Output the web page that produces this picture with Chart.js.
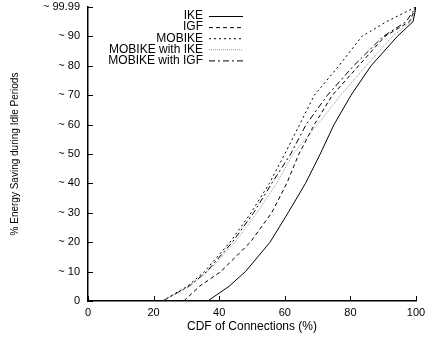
<!DOCTYPE html>
<html>
<head>
<meta charset="utf-8">
<script src="https://cdn.jsdelivr.net/npm/chart.js@4.4.0/dist/chart.umd.min.js"></script>
<style>
html, body { margin: 0; padding: 0; background: #fff; }
#wrap { width: 426px; height: 339px; }
</style>
</head>
<body>
<div id="wrap"><canvas id="mycanvas"></canvas></div>
<script>
// energy saving levels (y) and the CDF value (x) where each scheme reaches them
var savingLevels = [0, 5, 10, 20, 30, 40, 50, 60, 70, 80, 90, 95, 99.99];
var ikeCdf       = [36.5, 43, 48, 55.5, 61, 66.3, 70.8, 75, 80.2, 86.3, 94.3, 99.1, 100];
var igfCdf       = [29.2, 34, 40.5, 49.5, 56, 60.6, 64.3, 69, 74.5, 82.5, 90.5, 98, 100];
var mobikeCdf    = [22.7, 30.3, 35.5, 43.3, 49.7, 55.3, 60, 64.5, 69, 76.5, 83.5, 91, 100];
var mobIkeCdf    = [22.7, 31, 36.5, 44.8, 51.5, 57.5, 62.5, 70, 77, 84.8, 92.8, 98.5, 100];
var mobIgfCdf    = [22.7, 30.8, 36.2, 44, 50.5, 56, 61.8, 66.5, 73, 81, 90, 97, 100];

var labels = ['IKE', 'IGF', 'MOBIKE', 'MOBIKE with IKE', 'MOBIKE with IGF'];
var xTicks = [0, 20, 40, 60, 80, 100];
var yTicks = [0, 10, 20, 30, 40, 50, 60, 70, 80, 90, 99.99];

function toPoints(cdf) {
    var pts = [];
    for (var i in cdf) {
        pts.push({x: cdf[i], y: savingLevels[i]});
    }
    return pts;
}

var styles = [
    {color: '#000', dash: []},
    {color: '#000', dash: [4, 3]},
    {color: '#000', dash: [2, 3]},
    {color: '#999', dash: [1, 1]},
    {color: '#000', dash: [6, 3, 2, 3]}
];
var series = [ikeCdf, igfCdf, mobikeCdf, mobIkeCdf, mobIgfCdf];

var datasets = [];
for (var i = 0; i < series.length; i++) {
    datasets.push({
        label: labels[i],
        data: toPoints(series[i]),
        showLine: true,
        borderColor: styles[i].color,
        borderDash: styles[i].dash,
        borderWidth: 1,
        pointRadius: 0,
        tension: 0,
        fill: false
    });
}

var font = 'Liberation Sans, Arial, Helvetica, sans-serif';

// legend drawn gnuplot style: right aligned text, line sample on the right
var legendPlugin = {
    id: 'gpLegend',
    afterDraw: function(chart) {
        var ctx = chart.ctx;
        ctx.save();
        ctx.font = '12px ' + font;
        ctx.textAlign = 'right';
        ctx.textBaseline = 'middle';
        chart.data.datasets.forEach(function(ds, i) {
            var y = 16 + i * 11.1;
            ctx.fillStyle = '#000';
            ctx.fillText(ds.label, 203, y);
            ctx.strokeStyle = ds.borderColor;
            ctx.lineWidth = 1;
            ctx.setLineDash(ds.borderDash);
            ctx.beginPath();
            ctx.moveTo(209, y + 0.5);
            ctx.lineTo(243, y + 0.5);
            ctx.stroke();
        });
        ctx.restore();
    }
};

// small inward tick marks
var tickPlugin = {
    id: 'innerTicks',
    afterDraw: function(chart) {
        var ctx = chart.ctx;
        var xs = chart.scales.x, ys = chart.scales.y;
        var a = chart.chartArea;
        ctx.save();
        ctx.strokeStyle = '#000';
        ctx.lineWidth = 1;
        ctx.beginPath();
        xTicks.forEach(function(v) {
            var px = Math.round(xs.getPixelForValue(v)) + 0.5;
            ctx.moveTo(px, a.bottom);
            ctx.lineTo(px, a.bottom - 5);
        });
        yTicks.forEach(function(v) {
            var py = Math.round(ys.getPixelForValue(v)) + 0.5;
            ctx.moveTo(a.left, py);
            ctx.lineTo(a.left + 5, py);
        });
        ctx.stroke();
        ctx.restore();
    }
};

var ctx = document.getElementById('mycanvas');
var chart = new Chart(ctx, {
    type: 'scatter',
    data: {datasets: datasets},
    options: {
        responsive: true,
        maintainAspectRatio: false,
        animation: false,
        layout: {autoPadding: false, padding: {top: 7, right: 10, left: 9, bottom: 5}},
        plugins: {
            legend: {display: false},
            tooltip: {enabled: false}
        },
        scales: {
            x: {
                type: 'linear',
                min: 0,
                max: 100,
                afterBuildTicks: function(scale) {
                    scale.ticks = xTicks.map(function(v) { return {value: v}; });
                },
                afterFit: function(scale) {
                    scale.height = 33;
                    scale.paddingRight = 0;
                    scale.paddingLeft = 0;
                },
                grid: {display: false, drawTicks: false, tickLength: 0},
                border: {display: true, color: '#000', width: 1.5},
                ticks: {
                    color: '#000',
                    padding: 5,
                    maxRotation: 0,
                    font: {family: font, size: 11},
                    callback: function(v) { return v; }
                },
                title: {
                    display: true,
                    text: 'CDF of Connections (%)',
                    color: '#000',
                    font: {family: font, size: 12},
                    padding: {top: 3, bottom: 0}
                }
            },
            y: {
                type: 'linear',
                min: 0,
                max: 99.99,
                afterBuildTicks: function(scale) {
                    scale.ticks = yTicks.map(function(v) { return {value: v}; });
                },
                afterFit: function(scale) {
                    scale.paddingTop = 0;
                    scale.paddingBottom = 0;
                },
                grid: {display: false, drawTicks: false, tickLength: 0},
                border: {display: true, color: '#000', width: 1.5},
                ticks: {
                    color: '#000',
                    padding: 8,
                    font: {family: font, size: 11},
                    callback: function(v) { return v === 0 ? '0' : '~ ' + v; }
                },
                title: {
                    display: true,
                    text: '% Energy Saving during Idle Periods',
                    color: '#000',
                    font: {family: font, size: 10},
                    padding: {top: 0, bottom: 14}
                }
            }
        }
    },
    plugins: [legendPlugin, tickPlugin]
});
</script>
</body>
</html>
